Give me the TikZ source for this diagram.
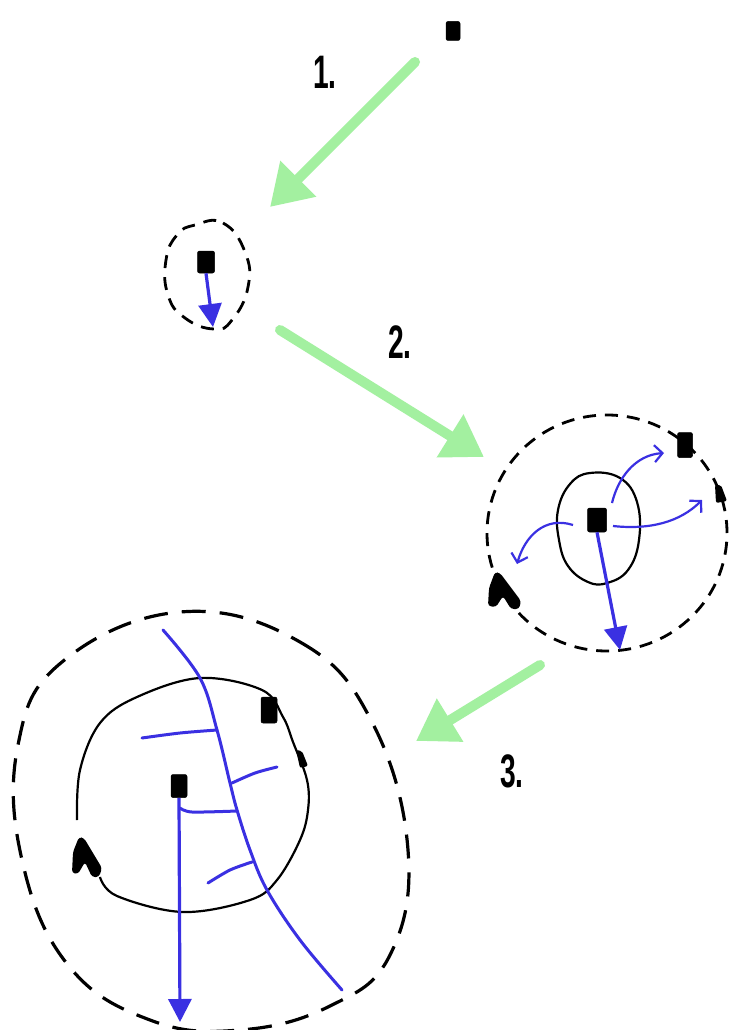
\documentclass[tikz,border=0pt]{standalone}
\usepackage{fontspec}
\setmainfont{Liberation Sans}
\usetikzlibrary{arrows.meta}
\definecolor{grn}{RGB}{163,240,160}
\definecolor{blu}{RGB}{58,48,226}
\begin{document}
\begin{tikzpicture}[x=1pt,y=-1pt,
  blk/.style={fill=black,draw=black,line width=0.5pt,rounded corners=2pt,inner sep=0pt,minimum width=#1},
  blk/.default=15pt,
  garrow/.style={draw=grn,line width=10pt,line cap=round,-{Triangle[length=40pt,width=48pt]}},
  barrow/.style={draw=blu,line width=3.2pt,-{Triangle[length=23pt,width=23pt]}},
  carrow/.style={draw=blu,line width=2.2pt,-{Straight Barb[length=8pt,width=17pt,line width=2.2pt]}},
  bline/.style={draw=blu,line width=3pt,line cap=round},
  dsmall/.style={draw=black,line width=2.8pt,dash pattern=on 13pt off 9pt},
  dbig/.style={draw=black,line width=3.2pt,dash pattern=on 24pt off 14pt},
  solid1/.style={draw=black,line width=2.2pt},
  num/.style={font=\fontsize{47}{47}\selectfont\bfseries,inner sep=0pt}]
\useasboundingbox (0,0) rectangle (732,1030);
\fill[white] (0,0) rectangle (732,1030);

% ---- stage 0: single marker
\node[blk=14pt,minimum height=19pt] (m0) at (453,31) {};
\node[num] (t1) at (325,72) {\scalebox{0.6}[1]{1.}};
\coordinate (g1s) at (415,62);
\coordinate (g1e) at (270,207);
\draw[garrow] (g1s) -- (g1e);

% ---- stage 1: small dashed egg
\draw[dsmall] plot[smooth cycle,tension=0.8] coordinates {(195,225) (223,223) (245,252) (248,287) (232,320) (214,329) (185,318) (168,295) (166,260) (177,235)};
\node[blk=17pt,minimum height=22pt] (m1) at (206,262) {};
\coordinate (a1) at (213,327);
\draw[barrow] (m1.south) -- (a1);
\node[num] (t2) at (400,342) {\scalebox{0.6}[1]{2.}};
\coordinate (g2s) at (280,330);
\coordinate (g2e) at (484,457);
\draw[garrow] (g2s) -- (g2e);

% ---- stage 2: middle circle
\draw[dsmall] (607,533) ellipse (120pt and 118pt);
\draw[solid1] plot[smooth cycle,tension=0.7] coordinates {(590,473) (620,478) (637,502) (639,540) (628,570) (607,583) (588,582) (568,566) (559,540) (558,510) (570,484)};
\node[blk=19pt,minimum height=24pt] (m2) at (597,520) {};
\node[blk=15pt,minimum height=25pt] (m2a) at (685,445) {};
\fill[rounded corners=2pt] (715,485) -- (721,485) -- (727,501) -- (716,503) -- cycle;
\coordinate (m2b) at (720,494);
\fill[rounded corners=3pt] (495,572) -- (500,573) -- (521,601) -- (519,609) -- (511,609) -- (503,596) -- (496,607) -- (488,606) -- (489,588) -- cycle;
\coordinate (m2c) at (502,592);
\coordinate (c1e) at (664,453);
\coordinate (c2e) at (702,500);
\coordinate (c3e) at (517,564);
\coordinate (a2) at (620,650);
\draw[carrow] (612,503) .. controls (618,478) and (635,455) .. (c1e);
\draw[carrow] (613,526) .. controls (650,530) and (680,522) .. (c2e);
\draw[carrow] (573,525) .. controls (545,516) and (525,536) .. (c3e);
\draw[barrow] (m2.south) -- (a2);

\coordinate (g3s) at (540,665);
\coordinate (g3e) at (416,741);
\draw[garrow] (g3s) -- (g3e);
\node[num] (t3) at (512,771) {\scalebox{0.6}[1]{3.}};

% ---- stage 3: big circle
\draw[dbig] plot[smooth cycle,tension=0.7] coordinates {(180,612) (300,642) (372,722) (408,850) (390,955) (330,1006) (240,1030) (150,1020) (68,965) (22,860) (18,745) (62,662)};
\draw[solid1] plot[smooth,tension=0.6] coordinates {(100,877) (117,896) (183,912) (250,900) (277,880) (300,840) (308,810) (307,780) (293,742) (283,717) (262,690) (200,678) (137,697) (100,723) (80,770) (77,820)};
\node[blk=16pt,minimum height=26pt] (m3a) at (269,710) {};
\fill[rounded corners=2pt] (296,750) -- (302,751) -- (308,766) -- (300,768) -- cycle;
\coordinate (m3b) at (301,759);
\fill[rounded corners=3pt] (79,837) -- (84,838) -- (102,868) -- (99,877) -- (92,877) -- (85,862) -- (78,874) -- (72,873) -- (73,852) -- cycle;
\coordinate (m3c) at (85,858);
\node[blk=16pt,minimum height=23pt] (m3) at (179,786) {};
\coordinate (a3) at (180,1022);
\draw[barrow] (m3.south) -- (a3);
\draw[bline] plot[smooth,tension=0.6] coordinates {(163,630) (200,678) (217,730) (230,783) (237,810) (250,850) (267,890) (300,940) (342,990)};
\draw[bline] plot[smooth] coordinates {(142,738) (180,733) (217,730)};
\draw[bline] plot[smooth] coordinates {(232,783) (255,773) (277,767)};
\draw[bline] plot[smooth] coordinates {(180,808) (192,812) (237,811)};
\draw[bline] plot[smooth] coordinates {(208,883) (230,870) (252,862)};
\end{tikzpicture}
\end{document}
